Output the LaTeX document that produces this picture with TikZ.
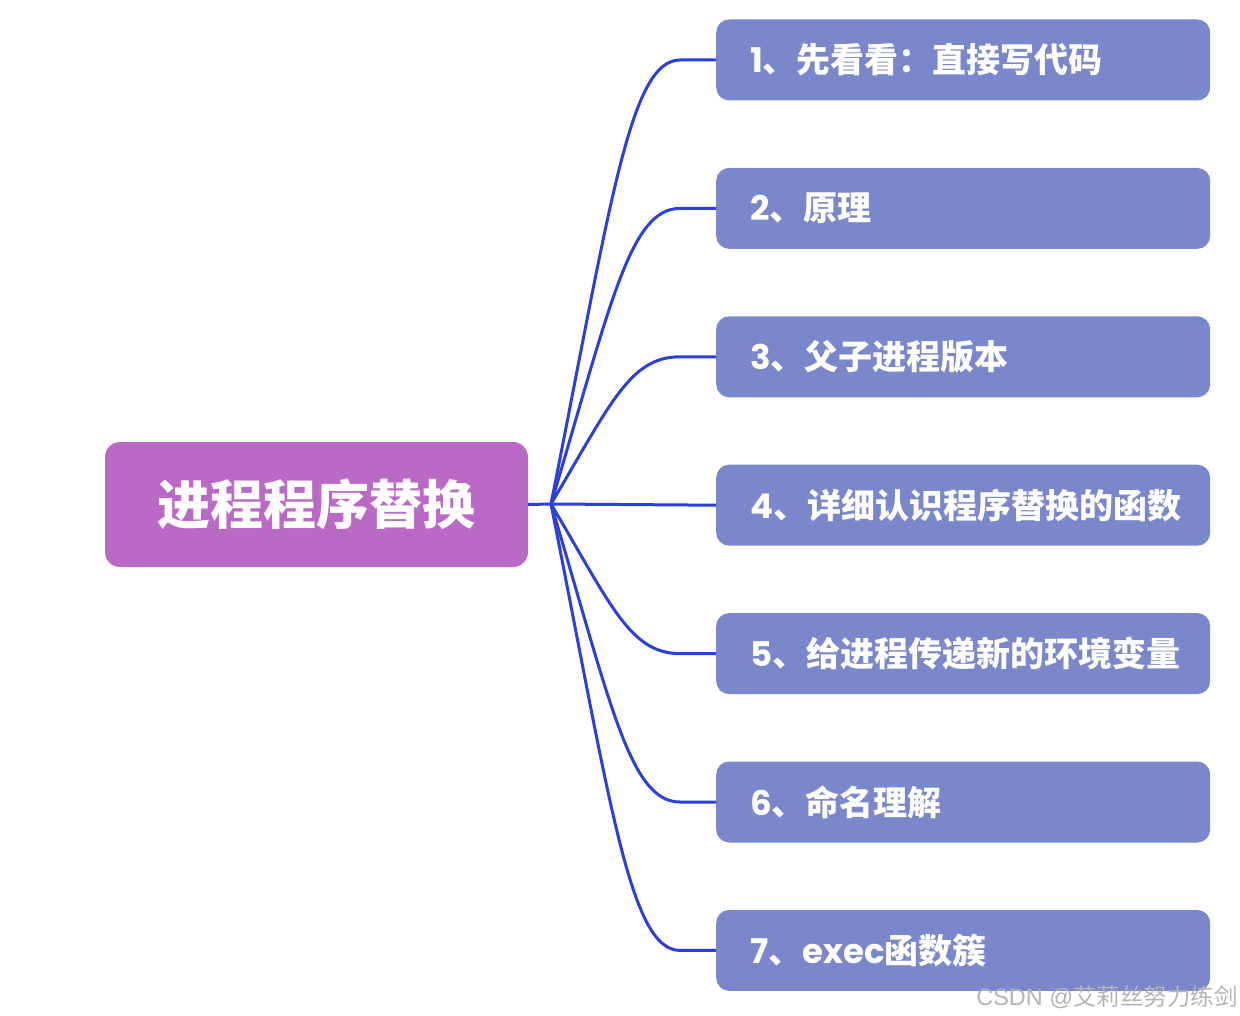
\documentclass[tikz,border=0pt]{standalone}
\usepackage{fontspec}
\usetikzlibrary{positioning}
\newfontfamily\cjk{Noto Sans CJK SC}
\newfontfamily\lat{Poppins}
\newfontfamily\wmlat{Liberation Sans}
\definecolor{hubfill}{HTML}{BA69C7}
\definecolor{leaffill}{HTML}{7A87CB}
\definecolor{linkblue}{HTML}{2B3FD9}
\definecolor{wmgray}{HTML}{B4B4B4}

\begin{document}
\begin{tikzpicture}[
  x=1pt, y=-1pt,
  hub/.style={rounded corners=15pt, fill=hubfill, text=white, minimum width=423pt, minimum height=125pt, font=\cjk\bfseries\fontsize{53}{60}\selectfont},
  leaf/.style={rounded corners=13pt, fill=leaffill, text=white, text width=426pt, inner xsep=34pt, align=left, minimum height=81pt, font=\cjk\bfseries\fontsize{34}{40}\selectfont},
  link/.style={draw=linkblue, line width=3pt}
]
\useasboundingbox (0,0) rectangle (1240,1016);

\node (root) [hub] at (316.5,504.5) {进程程序替换};
\coordinate (J) at (551,504);

\node (c1) [leaf, anchor=west] at (716,60) {{\lat\bfseries 1}、先看看：直接写代码};
\node (c2) [leaf, below=67pt of c1] {{\lat\bfseries 2}、原理};
\node (c3) [leaf, below=67pt of c2] {{\lat\bfseries 3}、父子进程版本};
\node (c4) [leaf, below=67pt of c3] {{\lat\bfseries 4}、详细认识程序替换的函数};
\node (c5) [leaf, below=67pt of c4] {{\lat\bfseries 5}、给进程传递新的环境变量};
\node (c6) [leaf, below=67pt of c5] {{\lat\bfseries 6}、命名理解};
\node (c7) [leaf, below=67pt of c6] {{\lat\bfseries 7}、{\lat\bfseries exec}函数簇};

\draw[link] (root.east) -- (J);
\draw[link] (J) .. controls +(60,-302) and +(-50,0) .. ([xshift=-36pt]c1.west) -- (c1.west);
\draw[link] (J) .. controls +(60,-201) and +(-50,0) .. ([xshift=-36pt]c2.west) -- (c2.west);
\draw[link] (J) .. controls +(60,-101) and +(-50,0) .. ([xshift=-36pt]c3.west) -- (c3.west);
\draw[link] (J) -- (c4.west);
\draw[link] (J) .. controls +(60,101) and +(-50,0) .. ([xshift=-36pt]c5.west) -- (c5.west);
\draw[link] (J) .. controls +(60,201) and +(-50,0) .. ([xshift=-36pt]c6.west) -- (c6.west);
\draw[link] (J) .. controls +(60,302) and +(-50,0) .. ([xshift=-36pt]c7.west) -- (c7.west);

% watermark
\node (wm) [anchor=east, inner sep=0pt, text=wmgray, font=\fontsize{23.5}{28}\selectfont] at (1238,997) {{\wmlat CSDN @}\cjk 艾莉丝努力练剑};
\end{tikzpicture}
\end{document}
